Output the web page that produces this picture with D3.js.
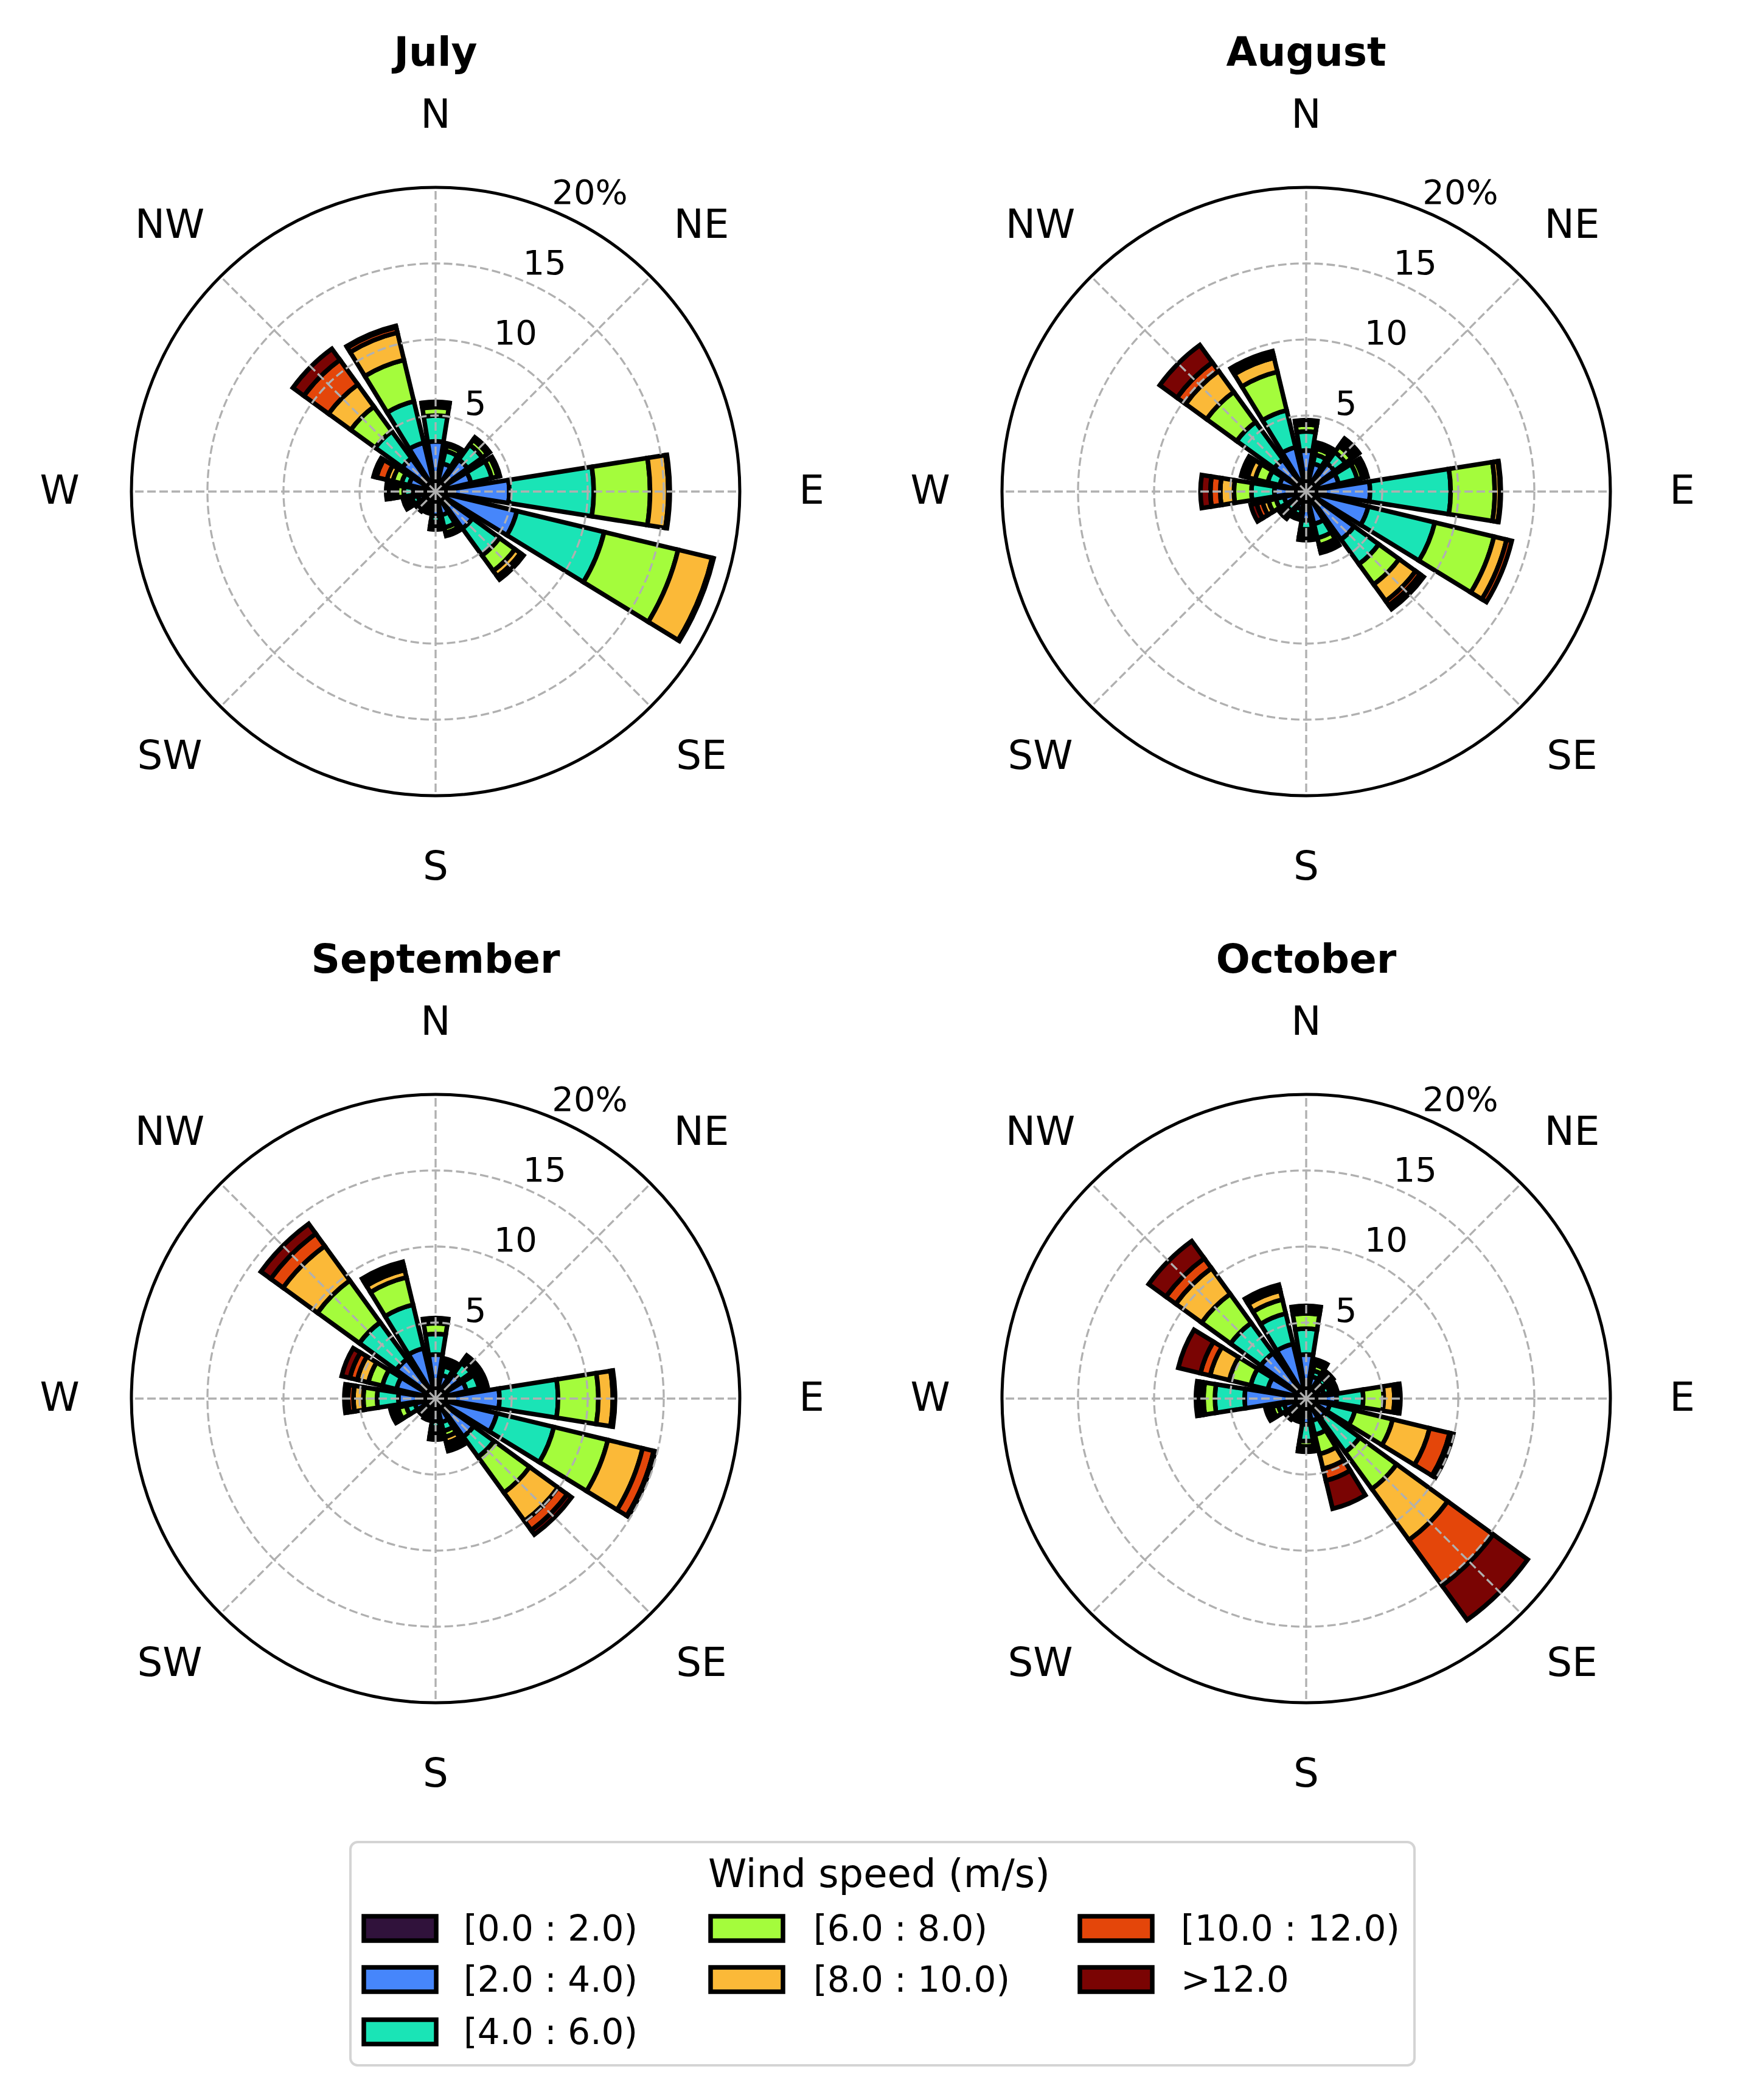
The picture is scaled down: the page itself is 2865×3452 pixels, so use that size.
<!DOCTYPE html>
<html>
<head>
<meta charset="utf-8">
<script src="https://cdn.jsdelivr.net/npm/d3@7"></script>
<style>
  html, body { margin: 0; padding: 0; background: #fff; }
  svg { display: block; font-family: "DejaVu Sans", sans-serif; }
</style>
</head>
<body>
<div id="chart"></div>
<script>
// direction sectors, clockwise from north
const directions = ['N', 'NNE', 'NE', 'ENE', 'E', 'ESE', 'SE', 'SSE',
                    'S', 'SSW', 'SW', 'WSW', 'W', 'WNW', 'NW', 'NNW'];
const speedBins = ['[0.0 : 2.0)', '[2.0 : 4.0)', '[4.0 : 6.0)', '[6.0 : 8.0)',
                   '[8.0 : 10.0)', '[10.0 : 12.0)', '>12.0'];
const compassLabels = ['N', 'NE', 'E', 'SE', 'S', 'SW', 'W', 'NW'];
const radialTicks = [5, 10, 15, 20];
const months = ['July', 'August', 'September', 'October'];

// frequency (%) per direction, one value per speed bin
const julyFreq = [
  [0.6, 2.7, 1.7, 0.55, 0.25, 0.1, 0],
  [0.6, 1.3, 0.85, 0.35, 0.15, 0, 0],
  [0.6, 2.0, 1.2, 0.4, 0.2, 0, 0],
  [0.6, 1.8, 1.4, 0.4, 0.15, 0, 0],
  [0.8, 4.05, 5.55, 3.7, 1.2, 0.1, 0],
  [0.8, 4.7, 5.9, 5.0, 2.3, 0.1, 0],
  [0.6, 2.4, 2.2, 1.25, 0.45, 0.25, 0],
  [0.6, 1.0, 0.85, 0.35, 0.2, 0, 0],
  [0.6, 1.0, 0.4, 0.3, 0.2, 0, 0],
  [0.5, 0.5, 0.3, 0.2, 0, 0, 0],
  [0.6, 0.4, 0.3, 0.2, 0.1, 0, 0],
  [0.6, 0.6, 0.4, 0.3, 0.2, 0.1, 0],
  [0.6, 0.9, 0.6, 0.45, 0.3, 0.2, 0.2],
  [0.6, 1.2, 0.5, 0.6, 0.4, 0.7, 0.2],
  [0.6, 2.1, 2.2, 2.0, 1.8, 2.0, 0.9],
  [0.6, 2.7, 2.8, 2.8, 1.85, 0.35, 0.1]
];
const augustFreq = [
  [0.6, 2.1, 1.25, 0.45, 0.2, 0.1, 0],
  [0.6, 1.3, 0.6, 0.4, 0.25, 0.15, 0],
  [0.6, 1.7, 0.9, 0.5, 0.3, 0.2, 0.1],
  [0.6, 1.6, 1.25, 0.35, 0.2, 0.15, 0],
  [0.6, 3.6, 5.3, 2.9, 0.35, 0.05, 0],
  [0.6, 3.6, 4.5, 4.0, 0.85, 0.35, 0],
  [0.6, 3.3, 2.0, 1.65, 1.35, 0.35, 0.3],
  [0.6, 1.6, 0.95, 0.5, 0.25, 0.15, 0.1],
  [0.6, 1.3, 0.6, 0.3, 0.2, 0.1, 0.1],
  [0.6, 0.6, 0.4, 0.2, 0.1, 0, 0],
  [0.6, 0.6, 0.4, 0.3, 0.2, 0.1, 0],
  [0.6, 0.9, 0.55, 0.5, 0.4, 0.4, 0.4],
  [0.6, 1.5, 1.5, 1.15, 0.9, 0.65, 0.65],
  [0.6, 1.2, 0.8, 0.85, 0.5, 0.25, 0.2],
  [0.6, 2.0, 3.05, 2.45, 1.7, 0.7, 1.4],
  [0.6, 2.4, 2.5, 2.6, 0.95, 0.25, 0.2]
];
const septemberFreq = [
  [0.6, 2.3, 1.35, 0.7, 0.2, 0.15, 0],
  [0.6, 1.0, 0.6, 0.3, 0.2, 0, 0],
  [0.6, 1.4, 0.9, 0.3, 0.2, 0.1, 0],
  [0.6, 1.5, 0.85, 0.3, 0.15, 0.1, 0],
  [0.6, 3.6, 3.85, 2.65, 0.95, 0.15, 0],
  [0.6, 3.55, 3.85, 3.65, 2.35, 0.75, 0.1],
  [0.6, 2.5, 1.65, 2.9, 2.3, 0.75, 0.35],
  [0.6, 1.0, 0.6, 0.4, 0.4, 0.3, 0.25],
  [0.6, 0.9, 0.4, 0.3, 0.3, 0.2, 0],
  [0.5, 0.5, 0.3, 0.2, 0, 0, 0],
  [0.5, 0.4, 0.3, 0.2, 0, 0, 0],
  [0.6, 0.8, 0.6, 0.55, 0.25, 0.15, 0.1],
  [0.6, 1.85, 1.4, 0.9, 0.65, 0.35, 0.25],
  [0.6, 2.05, 0.95, 0.95, 0.75, 0.5, 0.55],
  [0.6, 2.6, 3.0, 3.4, 2.8, 1.0, 0.8],
  [0.6, 2.8, 2.95, 1.85, 0.5, 0.3, 0.25]
];
const octoberFreq = [
  [0.6, 2.3, 1.7, 1.0, 0.25, 0.15, 0.1],
  [0.6, 0.9, 0.4, 0.4, 0.2, 0.15, 0],
  [0.6, 0.7, 0.4, 0.3, 0.2, 0, 0],
  [0.6, 0.6, 0.4, 0.3, 0.2, 0, 0],
  [0.6, 1.4, 1.75, 1.35, 0.7, 0.25, 0.15],
  [0.6, 1.0, 1.7, 2.55, 2.5, 1.35, 0.25],
  [0.6, 1.0, 2.75, 3.0, 4.15, 3.7, 2.8],
  [0.6, 0.9, 0.95, 1.3, 1.0, 0.8, 1.9],
  [0.6, 1.1, 1.1, 0.35, 0.2, 0.15, 0],
  [0.6, 0.5, 0.3, 0.2, 0, 0, 0],
  [0.6, 0.5, 0.3, 0.2, 0.1, 0, 0],
  [0.6, 0.9, 0.4, 0.4, 0.3, 0.15, 0],
  [0.6, 3.45, 1.95, 0.75, 0.2, 0.15, 0.15],
  [0.6, 2.0, 1.15, 1.45, 1.3, 0.65, 1.5],
  [0.6, 3.1, 2.45, 2.35, 2.1, 0.8, 1.4],
  [0.6, 3.1, 2.05, 0.95, 0.6, 0.2, 0.2]
];
const monthFreqs = [julyFreq, augustFreq, septemberFreq, octoberFreq];

const binColors = ['#30123b', '#4686fb', '#1ae4b6', '#a4fc3c', '#fbb938', '#e4460a', '#7a0403'];

const width = 2865, height = 3452;
const R = 500;
const centers = [[716, 808], [2147, 808], [716, 2299], [2147, 2299]];

const svg = d3.select('#chart').append('svg')
    .attr('width', width)
    .attr('height', height);
svg.append('rect').attr('width', width).attr('height', height).attr('fill', '#fff');

const rScale = d3.scaleLinear().domain([0, 20]).range([0, R]);
const aScale = d3.scaleLinear().domain([0, directions.length]).range([0, 2 * Math.PI]);
const halfOpen = aScale(1) * 0.8 / 2;
const arc = d3.arc();

months.forEach((m, k) => drawRose(m, monthFreqs[k], centers[k]));
drawLegend();

function drawRose(title, freq, c) {
    const g = svg.append('g').attr('transform', `translate(${c[0]},${c[1]})`);

    // stacked segments: one layer per speed bin, drawn bin by bin
    const stacks = freq.map(row => [0, ...d3.cumsum(row)]);
    speedBins.forEach((b, i) => {
        g.append('g').selectAll('path')
            .data(directions.map((d, j) => ({ j, r0: stacks[j][i], r1: stacks[j][i + 1] }))
                .filter(s => s.r1 > s.r0))
            .enter().append('path')
            .attr('d', s => arc({
                innerRadius: rScale(s.r0),
                outerRadius: rScale(s.r1),
                startAngle: aScale(s.j) - halfOpen,
                endAngle: aScale(s.j) + halfOpen
            }))
            .attr('fill', binColors[i])
            .attr('stroke', '#000')
            .attr('stroke-width', 7.5)
            .attr('stroke-linejoin', 'miter');
    });

    // grid on top of bars
    const grid = g.append('g')
        .attr('fill', 'none')
        .attr('stroke', '#b0b0b0')
        .attr('stroke-width', 3.3)
        .attr('stroke-dasharray', '14,6');
    grid.selectAll('circle')
        .data(radialTicks.slice(0, -1))
        .enter().append('circle')
        .attr('r', d => rScale(d));
    grid.selectAll('line')
        .data(compassLabels)
        .enter().append('line')
        .attr('x1', 0).attr('y1', 0)
        .attr('x2', (d, i) => R * Math.sin(i * Math.PI / 4))
        .attr('y2', (d, i) => -R * Math.cos(i * Math.PI / 4));

    g.append('circle')
        .attr('r', R)
        .attr('fill', 'none')
        .attr('stroke', '#000')
        .attr('stroke-width', 5);

    // compass labels
    g.selectAll('text.dir')
        .data(compassLabels)
        .enter().append('text')
        .attr('class', 'dir')
        .attr('x', (d, i) => 618 * Math.sin(i * Math.PI / 4))
        .attr('y', (d, i) => -618 * Math.cos(i * Math.PI / 4) - 3)
        .attr('text-anchor', 'middle')
        .attr('dominant-baseline', 'central')
        .attr('font-size', 66)
        .text(d => d);

    // radial tick labels
    const ta = Math.PI / 8;
    g.selectAll('text.tick')
        .data(radialTicks)
        .enter().append('text')
        .attr('class', 'tick')
        .attr('x', d => rScale(d) * Math.sin(ta))
        .attr('y', d => -rScale(d) * Math.cos(ta) - 11)
        .attr('text-anchor', 'start')
        .attr('font-size', 56)
        .text((d, i) => i === radialTicks.length - 1 ? d + '%' : d);

    g.append('text')
        .attr('x', 0)
        .attr('y', -723)
        .attr('text-anchor', 'middle')
        .attr('dominant-baseline', 'central')
        .attr('font-size', 66)
        .attr('font-weight', 'bold')
        .text(title);
}

function drawLegend() {
    const lg = svg.append('g');
    lg.append('rect')
        .attr('x', 576).attr('y', 3028)
        .attr('width', 1749).attr('height', 367)
        .attr('rx', 12)
        .attr('fill', '#fff')
        .attr('stroke', '#d4d4d4')
        .attr('stroke-width', 4);
    lg.append('text')
        .attr('x', 1445).attr('y', 3080)
        .attr('text-anchor', 'middle')
        .attr('dominant-baseline', 'central')
        .attr('font-size', 64)
        .text('Wind speed (m/s)');

    // matplotlib fills columns first: 3 + 2 + 2
    const colX = [598, 1168, 1775];
    const textX = [762, 1337, 1941];
    const rowY = [3170, 3254, 3340];
    const slot = [[0, 0], [0, 1], [0, 2], [1, 0], [1, 1], [2, 0], [2, 1]];

    const items = lg.selectAll('g.item')
        .data(speedBins)
        .enter().append('g')
        .attr('class', 'item');
    items.append('rect')
        .attr('x', (d, i) => colX[slot[i][0]])
        .attr('y', (d, i) => rowY[slot[i][1]] - 20)
        .attr('width', 119)
        .attr('height', 40)
        .attr('fill', (d, i) => binColors[i])
        .attr('stroke', '#000')
        .attr('stroke-width', 7.5);
    items.append('text')
        .attr('x', (d, i) => textX[slot[i][0]])
        .attr('y', (d, i) => rowY[slot[i][1]])
        .attr('dominant-baseline', 'central')
        .attr('font-size', 58)
        .text(d => d);
}
</script>
</body>
</html>
